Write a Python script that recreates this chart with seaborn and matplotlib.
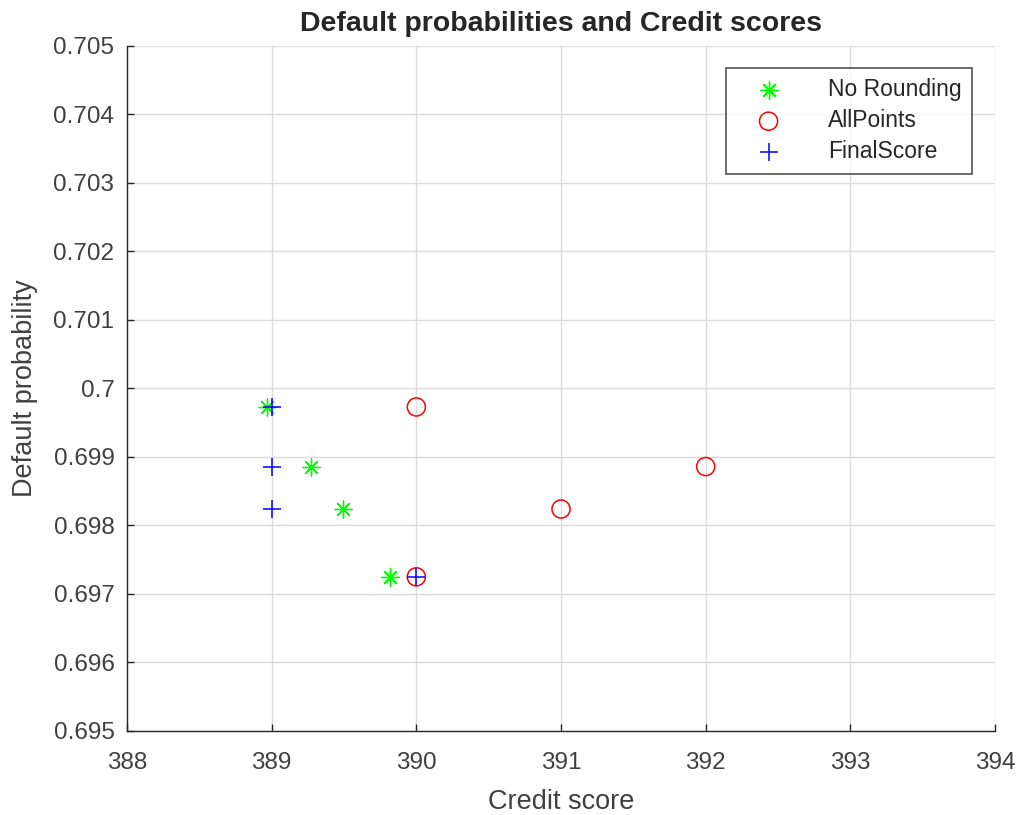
import numpy as np
import pandas as pd
import matplotlib
matplotlib.use('Agg')
import matplotlib.pyplot as plt
import seaborn as sns

# dados
prob_default = [0.69973, 0.69886, 0.69824, 0.69725]
score_no_rounding = [388.97, 389.27, 389.49, 389.82]
score_all_points = [390, 392, 391, 390]
score_final = [389, 389, 389, 390]

x_ticks = [388, 389, 390, 391, 392, 393, 394]
y_ticks = [0.695, 0.696, 0.697, 0.698, 0.699, 0.700, 0.701, 0.702, 0.703, 0.704, 0.705]
y_tick_labels = ['0.695', '0.696', '0.697', '0.698', '0.699', '0.7',
                 '0.701', '0.702', '0.703', '0.704', '0.705']

sns.set_style('white')
plt.rcParams['font.family'] = ['Liberation Sans', 'DejaVu Sans']

fig = plt.figure(figsize=(10.19, 8.15), dpi=100)
ax = fig.add_axes([0.1246, 0.1031, 0.8519, 0.8405])

# asterisco estilo MATLAB (8 pontas)
sns.scatterplot(x=score_no_rounding, y=prob_default, marker=(8, 2, 0), s=150,
                color=(0, 1, 0), linewidth=1.0, label='No Rounding', ax=ax, zorder=3)
sns.scatterplot(x=score_all_points, y=prob_default, marker='o', s=170,
                facecolor='none', edgecolor='red', linewidth=1.1, label='AllPoints',
                ax=ax, zorder=3)
sns.scatterplot(x=score_final, y=prob_default, marker='+', s=160,
                color='blue', linewidth=1.1, label='FinalScore', ax=ax, zorder=4)

ax.set_xlim(x_ticks[0], x_ticks[-1])
ax.set_ylim(y_ticks[0], y_ticks[-1])
ax.set_xticks(x_ticks)
ax.set_xticklabels([str(t) for t in x_ticks])
ax.set_yticks(y_ticks)
ax.set_yticklabels(y_tick_labels)

ax.grid(True, color='#dcdcdc', linewidth=1)
ax.set_axisbelow(True)
for side in ['top', 'right']:
    ax.spines[side].set_visible(False)
for side in ['left', 'bottom']:
    ax.spines[side].set_color('#262626')
    ax.spines[side].set_linewidth(1)

ax.tick_params(axis='both', direction='in', length=5, width=1, colors='#262626',
               labelcolor='#404040', labelsize=17.5, left=True, bottom=True)
ax.tick_params(axis='x', pad=15)
ax.tick_params(axis='y', pad=9)

ax.set_xlabel('Credit score', fontsize=19.5, color='#404040', labelpad=11)
ax.set_ylabel('Default probability', fontsize=19.5, color='#404040', labelpad=11)
ax.set_title('Default probabilities and Credit scores', fontsize=20.5,
             fontweight='bold', pad=11)

leg = ax.legend(loc='upper right', bbox_to_anchor=(0.9735, 0.968), borderaxespad=0,
                fontsize=16.5, frameon=True, fancybox=False, edgecolor='#262626',
                handletextpad=1.2, borderpad=0.45, labelspacing=0.35,
                handlelength=2.8)
leg.get_frame().set_linewidth(1.2)
for t in leg.get_texts():
    t.set_color('#262626')

plt.savefig('out.png', dpi=100)
plt.close()
